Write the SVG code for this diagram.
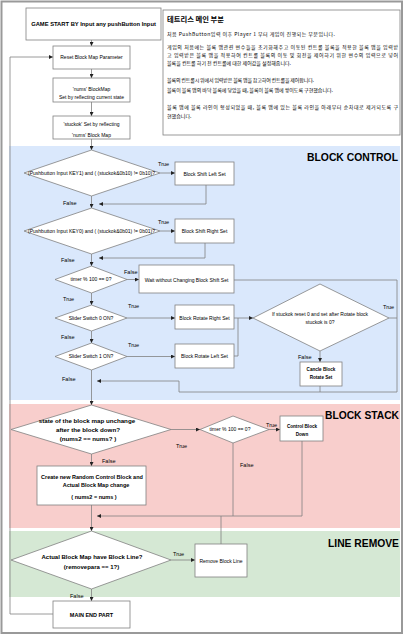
<svg xmlns="http://www.w3.org/2000/svg" width="404" height="636" viewBox="0 0 404 636">
<defs>
<marker id="ah" markerUnits="userSpaceOnUse" markerWidth="4" markerHeight="4" refX="4" refY="2" orient="auto">
<path d="M0,0 L4,2 L0,4 z" fill="#222"/>
</marker>
<style>
.box{fill:#fff;stroke:#808080;stroke-width:0.8}
.ln{fill:none;stroke:#808080;stroke-width:0.8}
.ar{marker-end:url(#ah)}
text{font-family:"Liberation Sans",Arial,sans-serif;fill:#000}
.t{font-size:5px;text-anchor:middle}
.b{font-weight:bold}
.lb{font-size:5.5px}
.sec{font-size:11px;font-weight:bold;text-anchor:end}
.kr{font-family:"Noto Sans CJK KR","Liberation Sans",sans-serif;font-size:5px}
</style>
</defs>
<rect x="1.5" y="1.5" width="400.5" height="631.5" fill="#fff" stroke="#999" stroke-width="2"/>
<g id="sections">
<rect x="9" y="146" width="391" height="254" fill="#dae8fc"/>
<rect x="9" y="404" width="391" height="124" fill="#f8cecc"/>
<rect x="9" y="531" width="391" height="66" fill="#d5e8d4"/>
<text class="sec" x="398" y="161" textLength="91" lengthAdjust="spacingAndGlyphs">BLOCK CONTROL</text>
<text class="sec" x="399" y="419" textLength="74" lengthAdjust="spacingAndGlyphs">BLOCK STACK</text>
<text class="sec" x="399" y="547" textLength="71" lengthAdjust="spacingAndGlyphs">LINE REMOVE</text>
</g>
<g id="description">
<rect class="box" x="163" y="10" width="237" height="125"/>
<text class="kr b" x="167" y="22" style="font-size:7.3px">테트리스 메인 부분</text>
<text class="kr" x="167" y="36" textLength="168">처음 PushButton입력 이후 Player 1 부터 게임이 진행되는 부분입니다.</text>
<text class="kr" x="167" y="49" textLength="231">게임의 처음에는 블록 맵관련 변수들을 초기화해주고 이동된 컨트롤 블록을 적용한 블록 맵을 입력받</text>
<text class="kr" x="167" y="57" textLength="231">고 입력받은 블록 맵을 적용하여 컨트롤 블록의 이동 및 회전을 제어하기 위한 변수의 입력으로 넣어</text>
<text class="kr" x="167" y="65" textLength="124">블록을 컨트롤 하기 전 컨트롤에 대한 제어값을 설정해줍니다.</text>
<text class="kr" x="167" y="82" textLength="147">블록의 컨트롤시 위에서 입력받은 블록 맵을 참고하여 컨트롤을 제어합니다.</text>
<text class="kr" x="167" y="92" textLength="166">블록이 블록 맵의 바닥 블록에 닿았을 때, 블록이 블록 맵에 쌓이도록 구현했습니다.</text>
<text class="kr" x="167" y="109" textLength="231">블록 맵에 블록 라인이 형성되었을 때, 블록 맵에 있는 블록 라인을 아래부터 순차대로 제거되도록 구</text>
<text class="kr" x="167" y="118">현했습니다.</text>
</g>
<g id="connectors">
<path class="ln ar" d="M91.5,40 V46"/>
<path class="ln ar" d="M91.5,69 V78"/>
<path class="ln ar" d="M91.5,102 V116"/>
<path class="ln ar" d="M91.5,139 V150"/>
<path class="ln ar" d="M160,173 H175"/>
<path class="ln ar" d="M206,185 V204 H99"/>
<path class="ln ar" d="M91.5,196 V208"/>
<path class="ln ar" d="M160,231 H175"/>
<path class="ln ar" d="M205,243 V258 H99"/>
<path class="ln ar" d="M91.5,254 V266"/>
<path class="ln ar" d="M127,279.5 H139"/>
<path class="ln ar" d="M234,280 H397 V392 H179 V381 H97"/>
<path class="ln ar" d="M91.5,293 V305"/>
<path class="ln ar" d="M127,318 H175"/>
<path class="ln ar" d="M91.5,331 V343"/>
<path class="ln ar" d="M127,356.5 H175"/>
<path class="ln" d="M234,318 H238"/>
<path class="ln ar" d="M234,356 H238 V318 H253"/>
<path class="ln" d="M389,318 H397"/>
<path class="ln ar" d="M320,351 V362"/>
<path class="ln" d="M320,386 V392"/>
<path class="ln ar" d="M91.5,370 V405"/>
<path class="ln ar" d="M171,429.5 H200"/>
<path class="ln ar" d="M91.5,454 V466"/>
<path class="ln ar" d="M269,429.5 H280"/>
<path class="ln" d="M233,443 V516"/>
<path class="ln ar" d="M302,441 V516 H97"/>
<path class="ln" d="M221,544 V516"/>
<path class="ln ar" d="M91.5,505 V531"/>
<path class="ln ar" d="M171,560 H195"/>
<path class="ln ar" d="M91.5,589 V601"/>
<path class="ln ar" d="M53,614 H10 V57 H53"/>
</g>
<g id="labels">
<text class="lb" x="158" y="166">True</text>
<text class="lb" x="63" y="205">False</text>
<text class="lb" x="158" y="224">True</text>
<text class="lb" x="61" y="262">False</text>
<text class="lb" x="124" y="274">False</text>
<text class="lb" x="63" y="301">True</text>
<text class="lb" x="128" y="308">True</text>
<text class="lb" x="61" y="339">False</text>
<text class="lb" x="128" y="347">True</text>
<text class="lb" x="62" y="381">False</text>
<text class="lb" x="383" y="309">True</text>
<text class="lb" x="298" y="359">False</text>
<text class="lb" x="176" y="448">True</text>
<text class="lb" x="102" y="463">False</text>
<text class="lb" x="266" y="427">True</text>
<text class="lb" x="240" y="467">False</text>
<text class="lb" x="173" y="556">True</text>
<text class="lb" x="70" y="598">False</text>
</g>
<g id="n-start"><rect class="box" x="26" y="8" width="135" height="32"/><text class="t b" x="93.5" y="26" style="font-size:5.8px">GAME START BY Input any pushButton Input</text></g>
<g id="n-reset"><rect class="box" x="53" y="46" width="77" height="23"/><text class="t" x="91.5" y="59.3">Reset Block Map Parameter</text></g>
<g id="n-nums"><rect class="box" x="53" y="78" width="77" height="24"/><text class="t" x="91.5" y="90.8">'nums' BlockMap</text><text class="t" x="91.5" y="98.8">Set by reflecting current state</text></g>
<g id="n-stuckok"><rect class="box" x="53" y="116" width="77" height="23"/><text class="t" x="91.5" y="126">'stuckok' Set by reflecting</text><text class="t" x="91.5" y="136.8">'nums' Block Map</text></g>
<g id="d-key1"><polygon class="box" points="91.5,150 160,173 91.5,196 24,173"/><text class="t" x="91.5" y="174.8">(Pushbutton Input KEY1) and ( (stuckok&amp;0b10) != 0b10)?</text></g>
<g id="n-shiftleft"><rect class="box" x="175" y="162" width="59" height="23"/><text class="t" x="204.5" y="175.8">Block Shift Left Set</text></g>
<g id="d-key0"><polygon class="box" points="91.5,208 160,231 91.5,254 24,231"/><text class="t" x="91.5" y="232.8">(Pushbutton Input KEY0) and ( (stuckok&amp;0b01) != 0b01)?</text></g>
<g id="n-shiftright"><rect class="box" x="175" y="219" width="59" height="24"/><text class="t" x="204.5" y="232.8">Block Shift Right Set</text></g>
<g id="d-timer1"><polygon class="box" points="91.5,266 127,279.5 91.5,293 55,279.5"/><text class="t" x="91" y="281.3">timer % 100 == 0?</text></g>
<g id="n-wait"><rect class="box" x="139" y="265" width="95" height="28"/><text class="t" x="186.5" y="282">Wait without Changing Block Shift Set</text></g>
<g id="d-sw0"><polygon class="box" points="91.5,305 127,318 91.5,331 55,318"/><text class="t" x="91" y="319.8">Slider Switch 0 ON?</text></g>
<g id="n-rotright"><rect class="box" x="175" y="305" width="59" height="24"/><text class="t" x="204.5" y="320">Block Rotate Right Set</text></g>
<g id="d-sw1"><polygon class="box" points="91.5,343 127,356.5 91.5,370 55,356.5"/><text class="t" x="91" y="358.3">Slider Switch 1 ON?</text></g>
<g id="n-rotleft"><rect class="box" x="175" y="344" width="59" height="24"/><text class="t" x="204.5" y="358">Block Rotate Left Set</text></g>
<g id="d-stuck"><polygon class="box" points="320,284 389,318 320,351 253,318"/><text class="t" x="320" y="315.8">If stuckok reset 0 and set after Rotate block</text><text class="t" x="320" y="323.8">stuckok is 0?</text></g>
<g id="n-cancel"><rect class="box" x="300" y="362" width="42" height="24"/><text class="t b" x="321" y="371" style="font-size:4.6px">Cancle Block</text><text class="t b" x="321" y="379" style="font-size:4.6px">Rotate Set</text></g>
<g id="d-unchange"><polygon class="box" points="91.5,405 171,429.5 91.5,454 11,429.5"/><text class="t b" x="87" y="423.2" style="font-size:6.2px">state of the block map unchange</text><text class="t b" x="88" y="432.2" style="font-size:6.2px">after the block down?</text><text class="t b" x="88" y="441.2" style="font-size:6.2px">(nums2 == nums? )</text></g>
<g id="d-timer2"><polygon class="box" points="233,416 269,429.5 233,443 200,429.5"/><text class="t" x="230" y="431">timer % 100 == 0?</text></g>
<g id="n-down"><rect class="box" x="280" y="416" width="43" height="25"/><text class="t b" x="302" y="428.3" style="font-size:4.6px">Control Block</text><text class="t b" x="302" y="435.8" style="font-size:4.6px">Down</text></g>
<g id="n-create"><rect class="box" x="37" y="466" width="109" height="39"/><text class="t b" x="92" y="479" style="font-size:5.5px">Create new Random Control Block and</text><text class="t b" x="96" y="487" style="font-size:5.5px">Actual Block Map change</text><text class="t b" x="94" y="499" style="font-size:5.5px">( nums2 = nums )</text></g>
<g id="d-line"><polygon class="box" points="91.5,531 171,560 91.5,589 11,560"/><text class="t b" x="92" y="559.2" style="font-size:6px">Actual Block Map have Block Line?</text><text class="t b" x="91.5" y="569.2" style="font-size:6px">(removepara == 1?)</text></g>
<g id="n-remove"><rect class="box" x="195" y="544" width="52" height="33"/><text class="t" x="221" y="562.5">Remove Block Line</text></g>
<g id="n-end"><rect class="box" x="53" y="601" width="77" height="27"/><text class="t b" x="91.5" y="616.5" style="font-size:5.5px">MAIN END PART</text></g>
</svg>
